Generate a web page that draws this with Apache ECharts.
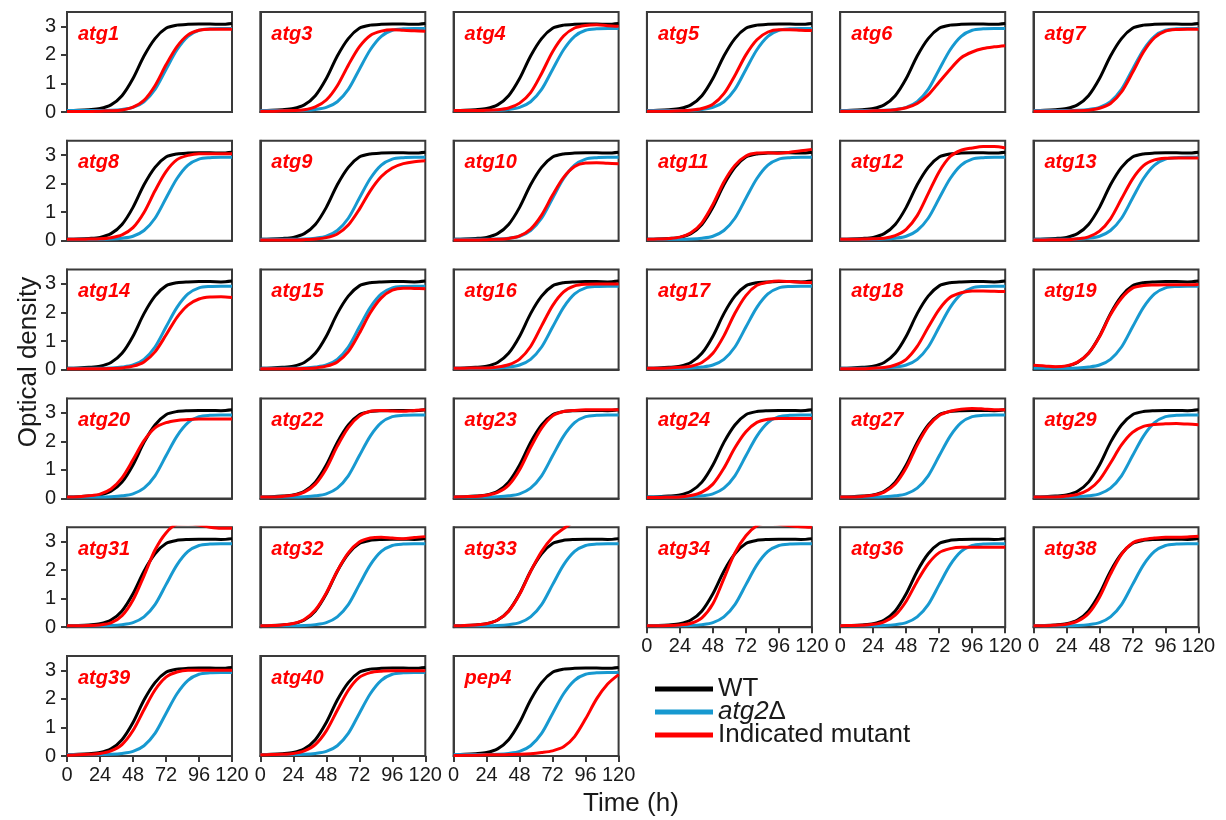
<!DOCTYPE html>
<html>
<head>
<meta charset="utf-8">
<script src="https://cdn.jsdelivr.net/npm/echarts@6.0.0/dist/echarts.min.js"></script>
<style>
  html, body { margin: 0; padding: 0; background: #fff; }
  #chart { width: 1226px; height: 820px; }
</style>
</head>
<body>
<div id="chart"></div>
<script>
// time points (h) and tick values
var hours = [0, 8, 16, 24, 32, 40, 48, 56, 64, 72, 80, 88, 96, 104, 112, 120];
var xTicks = [0, 24, 48, 72, 96, 120];
var yTicks = [0, 1, 2, 3];

// reference strains, same in every panel
var wt   = [0.05, 0.06, 0.08, 0.12, 0.25, 0.57, 1.17, 1.96, 2.57, 2.93, 3.04, 3.07, 3.08, 3.08, 3.07, 3.1];
var atg2 = [0.05, 0.05, 0.05, 0.05, 0.06, 0.09, 0.16, 0.36, 0.79, 1.49, 2.18, 2.65, 2.86, 2.91, 2.92, 2.92];

// indicated mutants
var atg1  = [0.02, 0.02, 0.02, 0.03, 0.04, 0.07, 0.17, 0.41, 0.92, 1.65, 2.29, 2.7, 2.86, 2.9, 2.9, 2.9];
var atg3  = [0.03, 0.03, 0.04, 0.05, 0.08, 0.18, 0.42, 0.92, 1.64, 2.28, 2.68, 2.83, 2.88, 2.86, 2.84, 2.83];
var atg4  = [0.05, 0.05, 0.05, 0.06, 0.08, 0.14, 0.31, 0.68, 1.35, 2.11, 2.66, 2.94, 3.03, 3.05, 3.02, 3.0];
var atg5  = [0.03, 0.03, 0.03, 0.04, 0.06, 0.12, 0.27, 0.64, 1.28, 2.0, 2.53, 2.8, 2.88, 2.88, 2.86, 2.85];
var atg6  = [0.03, 0.03, 0.03, 0.04, 0.05, 0.08, 0.15, 0.3, 0.6, 1.05, 1.5, 1.9, 2.1, 2.22, 2.28, 2.32];
var atg7  = [0.03, 0.03, 0.03, 0.03, 0.04, 0.06, 0.13, 0.3, 0.7, 1.38, 2.1, 2.6, 2.83, 2.89, 2.9, 2.9];
var atg8  = [0.05, 0.05, 0.06, 0.07, 0.11, 0.21, 0.46, 0.99, 1.75, 2.42, 2.84, 2.99, 3.05, 3.05, 3.05, 3.05];
var atg9  = [0.03, 0.03, 0.03, 0.03, 0.04, 0.06, 0.11, 0.24, 0.55, 1.1, 1.75, 2.25, 2.55, 2.7, 2.77, 2.8];
var atg10 = [0.03, 0.03, 0.03, 0.04, 0.05, 0.08, 0.17, 0.41, 0.9, 1.6, 2.22, 2.6, 2.72, 2.73, 2.71, 2.7];
var atg11 = [0.05, 0.06, 0.08, 0.13, 0.28, 0.63, 1.27, 2.06, 2.64, 2.97, 3.07, 3.08, 3.06, 3.1, 3.15, 3.2];
var atg12 = [0.05, 0.05, 0.06, 0.07, 0.09, 0.18, 0.4, 0.88, 1.65, 2.42, 2.95, 3.17, 3.25, 3.3, 3.3, 3.25];
var atg13 = [0.03, 0.03, 0.04, 0.04, 0.07, 0.14, 0.34, 0.77, 1.47, 2.16, 2.63, 2.83, 2.89, 2.9, 2.9, 2.9];
var atg14 = [0.03, 0.03, 0.03, 0.03, 0.04, 0.06, 0.12, 0.27, 0.62, 1.21, 1.83, 2.26, 2.47, 2.54, 2.55, 2.52];
var atg15 = [0.03, 0.03, 0.03, 0.03, 0.04, 0.06, 0.12, 0.27, 0.63, 1.27, 1.99, 2.51, 2.78, 2.85, 2.84, 2.83];
var atg16 = [0.05, 0.05, 0.06, 0.06, 0.09, 0.17, 0.37, 0.81, 1.53, 2.24, 2.72, 2.93, 2.99, 3.0, 3.0, 3.0];
var atg17 = [0.05, 0.05, 0.06, 0.08, 0.12, 0.25, 0.57, 1.18, 1.97, 2.59, 2.95, 3.06, 3.1, 3.08, 3.06, 3.05];
var atg18 = [0.03, 0.03, 0.03, 0.05, 0.07, 0.16, 0.36, 0.81, 1.48, 2.11, 2.53, 2.69, 2.75, 2.75, 2.74, 2.73];
var atg19 = [0.15, 0.13, 0.1, 0.13, 0.26, 0.57, 1.15, 1.92, 2.5, 2.85, 2.94, 2.96, 2.97, 2.97, 2.97, 2.98];
var atg20 = [0.05, 0.06, 0.09, 0.15, 0.33, 0.72, 1.35, 2.02, 2.47, 2.65, 2.73, 2.76, 2.78, 2.78, 2.78, 2.78];
var atg22 = [0.05, 0.05, 0.07, 0.11, 0.22, 0.5, 1.05, 1.83, 2.48, 2.88, 3.05, 3.08, 3.06, 3.05, 3.08, 3.1];
var atg23 = [0.05, 0.06, 0.07, 0.11, 0.21, 0.46, 1.0, 1.78, 2.46, 2.89, 3.04, 3.08, 3.1, 3.1, 3.1, 3.1];
var atg24 = [0.03, 0.03, 0.04, 0.05, 0.1, 0.22, 0.5, 1.06, 1.77, 2.33, 2.66, 2.77, 2.8, 2.8, 2.8, 2.8];
var atg27 = [0.05, 0.05, 0.07, 0.11, 0.22, 0.5, 1.07, 1.87, 2.52, 2.9, 3.05, 3.12, 3.15, 3.13, 3.1, 3.1];
var atg29 = [0.05, 0.05, 0.05, 0.08, 0.14, 0.3, 0.65, 1.24, 1.87, 2.31, 2.52, 2.59, 2.61, 2.62, 2.6, 2.58];
var atg31 = [0.05, 0.05, 0.06, 0.08, 0.15, 0.4, 0.95, 1.8, 2.7, 3.3, 3.6, 3.62, 3.58, 3.5, 3.46, 3.46];
var atg32 = [0.05, 0.06, 0.08, 0.13, 0.27, 0.6, 1.2, 1.97, 2.6, 2.98, 3.12, 3.15, 3.12, 3.1, 3.14, 3.17];
var atg33 = [0.05, 0.06, 0.08, 0.12, 0.25, 0.56, 1.15, 1.95, 2.65, 3.15, 3.45, 3.7, 3.8, 3.85, 3.85, 3.85];
var atg34 = [0.05, 0.05, 0.06, 0.08, 0.14, 0.33, 0.82, 1.7, 2.6, 3.2, 3.55, 3.65, 3.6, 3.55, 3.52, 3.5];
var atg36 = [0.05, 0.06, 0.07, 0.1, 0.19, 0.42, 0.91, 1.61, 2.22, 2.61, 2.75, 2.8, 2.8, 2.8, 2.8, 2.8];
var atg38 = [0.05, 0.05, 0.07, 0.1, 0.21, 0.48, 1.05, 1.86, 2.55, 2.95, 3.07, 3.12, 3.15, 3.15, 3.16, 3.18];
var atg39 = [0.03, 0.04, 0.06, 0.09, 0.18, 0.4, 0.89, 1.62, 2.31, 2.76, 2.94, 3.0, 3.0, 3.0, 3.0, 3.0];
var atg40 = [0.04, 0.05, 0.06, 0.09, 0.18, 0.4, 0.88, 1.6, 2.3, 2.75, 2.92, 2.97, 2.98, 2.98, 2.98, 2.98];
var pep4  = [0.02, 0.03, 0.03, 0.04, 0.04, 0.05, 0.06, 0.08, 0.12, 0.18, 0.32, 0.68, 1.3, 2.0, 2.52, 2.85];

var panelNames = ['atg1', 'atg3', 'atg4', 'atg5', 'atg6', 'atg7',
    'atg8', 'atg9', 'atg10', 'atg11', 'atg12', 'atg13',
    'atg14', 'atg15', 'atg16', 'atg17', 'atg18', 'atg19',
    'atg20', 'atg22', 'atg23', 'atg24', 'atg27', 'atg29',
    'atg31', 'atg32', 'atg33', 'atg34', 'atg36', 'atg38',
    'atg39', 'atg40', 'pep4'];
var panelCurves = [atg1, atg3, atg4, atg5, atg6, atg7,
    atg8, atg9, atg10, atg11, atg12, atg13,
    atg14, atg15, atg16, atg17, atg18, atg19,
    atg20, atg22, atg23, atg24, atg27, atg29,
    atg31, atg32, atg33, atg34, atg36, atg38,
    atg39, atg40, pep4];

var myChart = echarts.init(document.getElementById('chart'));
var font = 'Arial, "Liberation Sans", Helvetica, sans-serif';
var frame = '#3a3a3a';

function pairs(values) {
    return hours.map(function (h, k) { return [h, values[k]]; });
}

var grids = [], xAxes = [], yAxes = [], series = [], texts = [];

panelNames.forEach(function (name, i) {
    var row = Math.floor(i / 6);
    var col = i % 6;
    var left = 67 + col * 193.3;
    var top = 12 + row * 128.8;
    var showX = i >= 27;   // bottom panel of each column
    var showY = col === 0;

    grids.push({
        left: left, top: top, width: 165, height: 100,
        show: true, borderColor: frame, borderWidth: 2, backgroundColor: '#fff'
    });
    xAxes.push({
        type: 'value', gridIndex: i, min: xTicks[0], max: xTicks[xTicks.length - 1], interval: 24,
        axisLine: { show: true, lineStyle: { color: frame, width: 2 } },
        axisTick: { show: showX, length: 6, lineStyle: { color: frame, width: 2 } },
        axisLabel: { show: showX, margin: 9, fontSize: 20, color: '#1a1a1a', fontFamily: font },
        splitLine: { show: false }
    });
    yAxes.push({
        type: 'value', gridIndex: i, min: yTicks[0], max: 3.5, interval: 1,
        axisLine: { show: true, lineStyle: { color: frame, width: 2 } },
        axisTick: { show: showY, length: 6, lineStyle: { color: frame, width: 2 } },
        axisLabel: { show: showY, margin: 11, fontSize: 20, color: '#1a1a1a', fontFamily: font },
        splitLine: { show: false }
    });

    var lines = [
        { name: 'WT', data: wt, color: '#000000' },
        { name: 'atg2Δ', data: atg2, color: '#1799d0' },
        { name: 'Indicated mutant', data: panelCurves[i], color: '#ff0000' }
    ];
    lines.forEach(function (l) {
        series.push({
            type: 'line', name: l.name, xAxisIndex: i, yAxisIndex: i,
            data: pairs(l.data), smooth: 0.3, showSymbol: false, clip: true,
            lineStyle: { color: l.color, width: 3 }, itemStyle: { color: l.color },
            silent: true
        });
    });

    texts.push({
        type: 'text', left: left + 11, top: top + 12,
        style: { text: name, fill: '#ff0000', font: 'italic bold 20px ' + font }
    });
});

texts.push({
    type: 'text', left: 583, top: 791,
    style: { text: 'Time (h)', fill: '#1a1a1a', font: '26px ' + font }
});
texts.push({
    type: 'text', x: 29, y: 362, rotation: Math.PI / 2,
    style: { text: 'Optical density', fill: '#1a1a1a', font: '26px ' + font,
        textAlign: 'center', textVerticalAlign: 'middle', align: 'center', verticalAlign: 'middle' }
});

var option = {
    animation: false,
    backgroundColor: '#fff',
    grid: grids,
    xAxis: xAxes,
    yAxis: yAxes,
    series: series,
    legend: {
        data: ['WT', 'atg2Δ', 'Indicated mutant'],
        orient: 'vertical', left: 650, top: 671,
        icon: 'rect', itemWidth: 58, itemHeight: 5, itemGap: -3,
        selectedMode: false,
        textStyle: {
            fontSize: 26, lineHeight: 23, color: '#1a1a1a', fontFamily: font,
            rich: { i: { fontStyle: 'italic', fontSize: 26, lineHeight: 23, fontFamily: font, color: '#1a1a1a' } }
        },
        formatter: function (n) { return n === 'atg2Δ' ? '{i|atg2}Δ' : n; }
    },
    graphic: texts
};

myChart.setOption(option);
</script>
</body>
</html>
